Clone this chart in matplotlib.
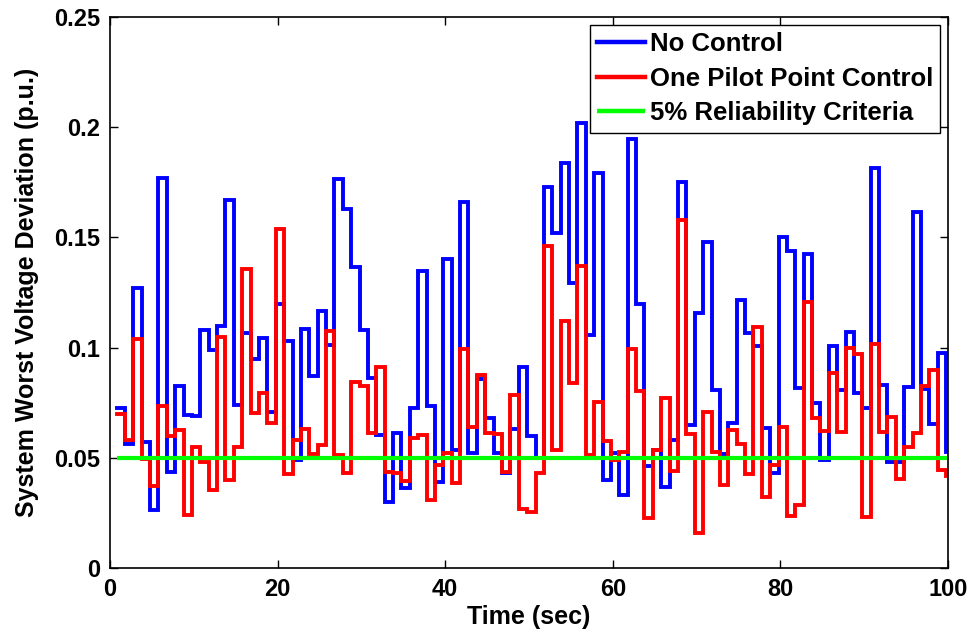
import numpy as np
import matplotlib
matplotlib.use("Agg")
import matplotlib.pyplot as plt

# ---- data ----
t_start = 0.78          # first sample time (s); samples every 1 s
no_control = [
    0.0724, 0.0561, 0.127, 0.057, 0.0263, 0.1768, 0.0434, 0.0827, 0.0694, 0.0690,
    0.108, 0.099, 0.110, 0.167, 0.074, 0.1068, 0.095, 0.1045, 0.071, 0.120,
    0.103, 0.049, 0.1085, 0.087, 0.1166, 0.101, 0.1763, 0.163, 0.1367, 0.108,
    0.0861, 0.0603, 0.030, 0.0614, 0.0361, 0.0724, 0.1348, 0.0737, 0.0392, 0.1402,
    0.0535, 0.1662, 0.052, 0.0856, 0.0679, 0.052, 0.043, 0.0629, 0.0913, 0.0600,
    0.0498, 0.173, 0.1518, 0.1839, 0.1292, 0.202, 0.1057, 0.179, 0.040, 0.052,
    0.0331, 0.1945, 0.1196, 0.0463, 0.0535, 0.0369, 0.058, 0.1753, 0.0649, 0.1155,
    0.148, 0.0808, 0.0516, 0.0656, 0.1216, 0.1068, 0.1007, 0.0634, 0.0433, 0.150,
    0.1438, 0.0815, 0.1425, 0.0747, 0.049, 0.1007, 0.0808, 0.1072, 0.0796, 0.0724,
    0.1813, 0.083, 0.0482, 0.048, 0.0823, 0.1617, 0.081, 0.0652, 0.0974, 0.0528,
]
pilot_control = [
    0.0699, 0.058, 0.104, 0.0493, 0.0374, 0.0735, 0.0599, 0.0626, 0.024, 0.0547,
    0.048, 0.0354, 0.105, 0.040, 0.055, 0.1357, 0.0705, 0.0796, 0.066, 0.154,
    0.0425, 0.058, 0.063, 0.0517, 0.0558, 0.1075, 0.0513, 0.0433, 0.0845, 0.0826,
    0.0614, 0.0913, 0.0437, 0.043, 0.0396, 0.0588, 0.0603, 0.0309, 0.0467, 0.052,
    0.0387, 0.0992, 0.0641, 0.0876, 0.0611, 0.0608, 0.0437, 0.0785, 0.0268, 0.0253,
    0.043, 0.146, 0.0535, 0.112, 0.0838, 0.137, 0.0513, 0.0755, 0.0576, 0.049,
    0.0528, 0.0992, 0.0803, 0.0225, 0.0535, 0.077, 0.0442, 0.158, 0.0606, 0.0157,
    0.0709, 0.0528, 0.0377, 0.0626, 0.0561, 0.0426, 0.1095, 0.0324, 0.0467, 0.0638,
    0.0236, 0.0286, 0.1208, 0.0679, 0.0623, 0.0883, 0.0616, 0.100, 0.097, 0.023,
    0.1015, 0.0616, 0.0687, 0.0402, 0.0547, 0.0611, 0.0826, 0.0898, 0.0445, 0.0417,
]
criteria = 0.05
x_ticks = [0, 20, 40, 60, 80, 100]
y_ticks = [0, 0.05, 0.1, 0.15, 0.2, 0.25]
y_tick_labels = ["0", "0.05", "0.1", "0.15", "0.2", "0.25"]
labels = ["No Control", "One Pilot Point Control", "5% Reliability Criteria"]

# ---- figure ----
plt.rcParams['font.family'] = ['Liberation Sans', 'DejaVu Sans']
plt.rcParams['font.weight'] = 'bold'

fig = plt.figure(figsize=(9.73, 6.39), dpi=100)
ax = fig.add_axes([110 / 973, 71 / 639, 838 / 973, 551 / 639])

n = len(no_control)
t = t_start + np.arange(n + 1)
nc = np.append(no_control, no_control[-1])
pc = np.append(pilot_control, pilot_control[-1])

lw = 2.8
ax.step(t, nc, where='post', color='#0000FF', lw=lw, label=labels[0],
        solid_joinstyle='miter')
ax.step(t, pc, where='post', color='#FF0000', lw=lw, label=labels[1],
        solid_joinstyle='miter')
ax.plot([t_start, 100], [criteria, criteria], color='#00FF00', lw=lw + 0.2,
        label=labels[2], solid_capstyle='butt')

ax.set_xlim(0, 100)
ax.set_ylim(0, 0.25)
ax.set_xticks(x_ticks)
ax.set_yticks(y_ticks)
ax.set_yticklabels(y_tick_labels)
ax.tick_params(direction='in', length=6, width=1.0, top=True, right=True,
               labelsize=17, pad=7)
for lab in ax.get_xticklabels() + ax.get_yticklabels():
    lab.set_fontweight('bold')
for s in ax.spines.values():
    s.set_linewidth(1.2)

ax.set_xlabel("Time (sec)", fontsize=18, fontweight='bold', labelpad=3)
ax.set_ylabel("System Worst Voltage Deviation (p.u.)", fontsize=18,
              fontweight='bold', labelpad=11)

leg = ax.legend(loc='upper right', frameon=True, fancybox=False,
                edgecolor='black', framealpha=1, handlelength=1.85,
                handletextpad=0.2, labelspacing=0.42, borderpad=0.28,
                borderaxespad=0.3, prop={'weight': 'bold', 'size': 18.5})
leg.get_frame().set_linewidth(1.0)
for line in leg.get_lines():
    line.set_linewidth(3.2)

fig.savefig("out.png", dpi=100)
